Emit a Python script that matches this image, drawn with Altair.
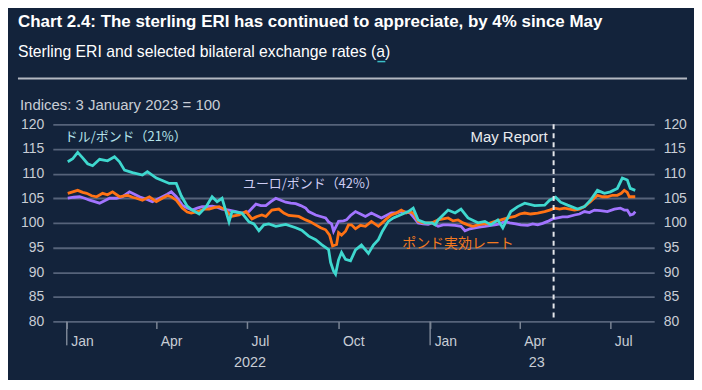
import altair as alt
import pandas as pd

# ---------------- data (days since 1 Jan 2022, index 3 Jan 2023 = 100) ----------------
usd_days = [1, 6, 11, 16, 21, 26, 33, 41, 48, 53, 58, 66, 76, 81, 90, 96, 103, 110, 115, 121,
            126, 133, 140, 146, 151, 156, 163, 166, 176, 183, 188, 193, 198, 203, 210, 220, 230, 236, 243, 250,
            256, 263, 265, 268, 270, 273, 276, 280, 285, 290, 296, 303, 308, 313, 317, 323, 328, 335, 343, 348,
            353, 360, 367, 370, 373, 383, 390, 396, 403, 413, 420, 426, 433, 438, 446, 453, 460, 470, 480, 485,
            491, 496, 503, 513, 520, 526, 533, 540, 546, 553, 558, 563, 566, 571]
usd_vals = [112.4, 113.0, 114.3, 113.2, 112.0, 111.6, 112.9, 112.6, 113.4, 112.4,
            110.7, 110.2, 109.7, 110.4, 109.1, 108.6, 108.0, 108.0, 105.5, 103.4,
            102.6, 101.8, 103.3, 105.3, 104.3, 105.0, 100.2, 102.3, 102.0, 100.2,
            99.8, 98.4, 99.6, 99.8, 99.3, 99.7, 99.0, 98.5, 97.3, 96.6,
            95.6, 94.6, 92.0, 90.2, 89.6, 92.5, 94.0, 92.6, 92.3, 94.5,
            95.5, 93.8, 95.5, 96.6, 98.3, 100.3, 101.0, 101.6, 102.3, 103.0,
            100.6, 100.0, 100.0, 99.6, 100.6, 102.6, 102.0, 102.8, 101.0, 100.0,
            100.3, 99.6, 100.6, 99.0, 102.3, 103.3, 104.0, 103.5, 103.6, 104.6,
            105.2, 104.2, 103.6, 102.8, 103.3, 104.6, 106.6, 106.0, 106.3, 107.0,
            109.1, 108.7, 107.0, 106.6]

eri_days = [1, 6, 11, 16, 20, 25, 30, 36, 41, 46, 53, 61, 66, 70, 76, 83, 90, 96, 101, 105,
            110, 116, 121, 125, 133, 138, 143, 148, 153, 160, 165, 173, 180, 186, 191, 196, 200, 206, 213, 218,
            223, 233, 240, 245, 250, 255, 260, 264, 267, 271, 273, 276, 280, 283, 286, 290, 295, 300, 306, 313,
            320, 326, 331, 336, 341, 345, 349, 353, 358, 363, 367, 373, 378, 383, 388, 393, 398, 403, 408, 413,
            418, 423, 430, 436, 443, 450, 455, 460, 466, 473, 480, 485, 490, 495, 500, 505, 510, 515, 520, 526,
            533, 538, 543, 548, 553, 557, 560, 563, 565, 568, 571]
eri_vals = [106.0, 106.3, 106.6, 106.2, 106.0, 105.5, 105.3, 106.0, 105.7, 106.3,
            105.3, 105.6, 105.2, 105.0, 104.6, 105.3, 104.3, 105.0, 105.5, 105.3,
            104.6, 103.0, 102.2, 102.0, 102.4, 102.8, 102.8, 103.1, 103.3, 102.6,
            101.3, 101.6, 102.3, 100.8, 101.3, 101.6, 101.3, 102.6, 102.8, 102.0,
            101.5, 101.3, 100.6, 100.2, 99.6, 99.0, 98.6, 97.5, 95.3, 95.6,
            98.0, 97.5, 98.3, 99.6, 99.6, 98.8, 99.5, 99.3, 100.3, 99.3,
            100.6, 101.6, 102.0, 102.6, 102.0, 102.3, 101.8, 100.3, 100.0, 100.0,
            100.0, 100.6, 100.8, 101.0, 100.4, 100.6, 100.0, 99.6, 99.3, 99.6,
            99.8, 99.8, 100.3, 100.6, 101.0, 101.3, 101.8, 102.0, 101.8, 102.0,
            102.3, 102.6, 103.0, 102.8, 103.0, 102.8, 102.6, 102.8, 103.3, 104.3,
            105.6, 105.3, 105.3, 105.6, 105.6, 106.0, 106.6, 106.2, 105.3, 105.3,
            105.3]

eur_days = [1, 7, 13, 18, 23, 28, 33, 38, 43, 50, 56, 63, 68, 73, 80, 86, 91, 96, 101, 105,
            110, 116, 121, 126, 131, 136, 141, 146, 151, 156, 163, 170, 176, 183, 190, 195, 200, 205, 210, 215,
            220, 225, 230, 235, 240, 243, 250, 255, 260, 263, 266, 268, 271, 273, 278, 281, 285, 290, 295, 300,
            306, 311, 316, 321, 326, 331, 336, 341, 345, 349, 353, 358, 363, 367, 373, 378, 383, 390, 396, 400,
            405, 410, 416, 420, 426, 430, 435, 440, 445, 451, 456, 463, 468, 473, 478, 483, 488, 493, 498, 503,
            510, 515, 520, 525, 530, 536, 543, 550, 556, 560, 563, 566, 569, 571]
eur_vals = [105.0, 105.2, 105.3, 105.0, 104.6, 104.3, 104.0, 104.5, 105.0, 105.0,
            105.3, 106.3, 105.8, 105.3, 104.8, 104.3, 104.8, 105.3, 105.8, 106.3,
            105.3, 103.6, 103.0, 102.6, 103.0, 103.3, 103.3, 103.4, 103.2, 102.8,
            102.6, 102.3, 102.0, 102.3, 103.8, 103.5, 103.5, 104.3, 105.0, 104.6,
            104.2, 104.0, 103.9, 103.5, 103.0, 102.3, 101.6, 101.3, 101.0, 100.2,
            99.8, 98.3, 99.5, 100.3, 100.4, 100.6, 101.5, 102.3, 101.8, 101.3,
            102.0, 101.5, 101.0, 101.5, 102.0, 102.0, 102.3, 102.2, 102.0, 101.0,
            100.0, 99.8, 99.7, 100.0, 99.3, 99.6, 99.6, 99.5, 99.3, 98.4,
            98.8, 99.0, 99.2, 99.3, 99.5, 99.6, 99.8, 100.3, 100.0, 99.8,
            99.6, 99.5, 99.8, 99.6, 99.9, 100.3, 100.8, 101.0, 101.2, 101.2,
            101.6, 101.8, 102.3, 102.1, 102.6, 102.5, 102.3, 102.8, 103.0, 102.6,
            102.6, 101.6, 101.8, 102.3]

y_ticks = [80, 85, 90, 95, 100, 105, 110, 115, 120]
month_ticks = ["2022-01-01", "2022-04-01", "2022-07-01", "2022-10-01",
               "2023-01-01", "2023-04-01", "2023-07-01"]
year_tick_dates = ["2022-01-01", "2023-01-01"]
year_labels = ["2022", "23"]
year_label_dates = ["2022-07-04", "2023-04-18"]
may_report_date = ["2023-05-05"]

TITLE = "Chart 2.4: The sterling ERI has continued to appreciate, by 4% since May"
SUBTITLE = "Sterling ERI and selected bilateral exchange rates (a)"
UNITS = "Indices: 3 January 2023 = 100"

# ---------------- styling ----------------
BG = "#13233b"
GRID = "#56637a"
LBL = "#c8cdd5"
TURQ = "#3fd8cf"
ORANGE = "#ff7214"
PURPLE = "#a274ff"
FONT = "Liberation Sans"
JFONT = "Noto Sans CJK JP"

BASE = pd.Timestamp("2022-01-01")


def frame(days, vals):
    return pd.DataFrame({"date": BASE + pd.to_timedelta(days, unit="D"), "value": vals})


usd = frame(usd_days, usd_vals)
eri = frame(eri_days, eri_vals)
eur = frame(eur_days, eur_vals)


def dt(s):
    t = pd.Timestamp(s)
    return alt.DateTime(year=t.year, month=t.month, date=t.day)


x_scale = alt.Scale(domain=[dt("2021-12-18"), dt("2023-08-14")])
y_scale = alt.Scale(domain=[80, 120], nice=False, zero=False)

x_enc = alt.X(
    "date:T", scale=x_scale,
    axis=alt.Axis(values=[dt(s) for s in month_ticks], format="%b", labelAlign="left",
                  labelOffset=4, labelBaseline="top", labelPadding=6, tickSize=7,
                  tickWidth=1.5, tickColor="#7a8494", domain=False, grid=False,
                  labelColor=LBL, labelFontSize=14, labelFont=FONT,
                  labelOverlap=False, labelFlush=False, title=None))
y_enc = alt.Y(
    "value:Q", scale=y_scale,
    axis=alt.Axis(values=y_ticks, grid=True, gridColor=GRID, gridWidth=1.8, domain=False,
                  ticks=False, labelPadding=9, labelColor=LBL, labelFontSize=14,
                  labelFont=FONT, title=None))


def line(df, color):
    return alt.Chart(df).mark_line(color=color, strokeWidth=2.8).encode(x=x_enc, y=y_enc)


lines = [line(eur, PURPLE), line(eri, ORANGE), line(usd, TURQ)]

year_ticks = alt.Chart(pd.DataFrame({"date": pd.to_datetime(year_tick_dates)})).mark_rule(
    color="#7a8494", strokeWidth=1.5).encode(x=x_enc, y=alt.value(198), y2=alt.value(222))

year_text = alt.Chart(pd.DataFrame({"date": pd.to_datetime(year_label_dates), "t": year_labels})).mark_text(
    font=FONT, fontSize=14.5, color=LBL, align="center", baseline="middle").encode(
    x=x_enc, y=alt.value(240), text="t:N")

may_line = alt.Chart(pd.DataFrame({"date": pd.to_datetime(may_report_date)})).mark_rule(
    color="#e4e6ea", strokeWidth=2, strokeDash=[5, 4]).encode(x=x_enc, y=alt.value(0), y2=alt.value(198))

may_text = alt.Chart(pd.DataFrame({"date": pd.to_datetime(may_report_date), "value": [117.4], "t": ["May Report"]})).mark_text(
    font=FONT, fontSize=15, color="#e8eaee", align="right", baseline="middle", dx=-6).encode(
    x=x_enc, y=y_enc, text="t:N")

ann = pd.DataFrame({
    "date": pd.to_datetime(["2021-12-30", "2022-06-27"]),
    "value": [117.4, 107.9],
    "t": ["ドル/ポンド（21%）", "ユーロ/ポンド（42%）"],
    "c": ["#b4e2ea", "#cfcdf3"],
})
ann_text = alt.Chart(ann).mark_text(font=JFONT, fontSize=13, align="left", baseline="middle").encode(
    x=x_enc, y=y_enc, text="t:N", color=alt.Color("c:N", scale=None))

eri_lab = alt.Chart(pd.DataFrame({"date": pd.to_datetime(["2022-12-04"]), "value": [95.8], "t": ["ポンド実効レート"]})).mark_text(
    font=JFONT, fontSize=14, align="left", baseline="middle", color="#f47a20").encode(
    x=x_enc, y=y_enc, text="t:N")


def label(txt, x, y, size, color, weight="normal"):
    return alt.Chart(pd.DataFrame({"t": [txt]})).mark_text(
        font=FONT, fontSize=size, fontWeight=weight, color=color, align="left", baseline="middle").encode(
        x=alt.value(x), y=alt.value(y), text="t:N")


title = label(TITLE, -35, -103, 17, "#ffffff", "bold")
subtitle = label(SUBTITLE, -35, -73, 15.8, "#ffffff")
units = label(UNITS, -33, -19, 15, LBL)
sep = alt.Chart(pd.DataFrame({"a": [0]})).mark_rule(color="#b3b8c1", strokeWidth=2).encode(
    x=alt.value(-35), x2=alt.value(637), y=alt.value(-46))
a_underline = alt.Chart(pd.DataFrame({"a": [0]})).mark_rule(color="#3bbfc8", strokeWidth=1.5).encode(
    x=alt.value(326), x2=alt.value(334), y=alt.value(-63))

inner = alt.layer(*lines, year_ticks, year_text, may_line, may_text, ann_text, eri_lab,
                  title, subtitle, units, sep, a_underline)

right = alt.Chart(usd).mark_line(opacity=0).encode(
    x=x_enc,
    y=alt.Y("value:Q", scale=y_scale,
            axis=alt.Axis(values=y_ticks, orient="right", grid=False, domain=False, ticks=False,
                          labelPadding=9, labelColor=LBL, labelFontSize=14, labelFont=FONT,
                          title=None)))

chart = alt.layer(inner, right).resolve_scale(y="independent").properties(
    width=604, height=198, background=BG,
    padding={"left": 45, "top": 116, "right": 40, "bottom": 58},
    autosize=alt.AutoSizeParams(type="none"),
).configure_view(strokeWidth=0)

chart.save("out.html", embed_options={"renderer": "svg", "actions": False})
